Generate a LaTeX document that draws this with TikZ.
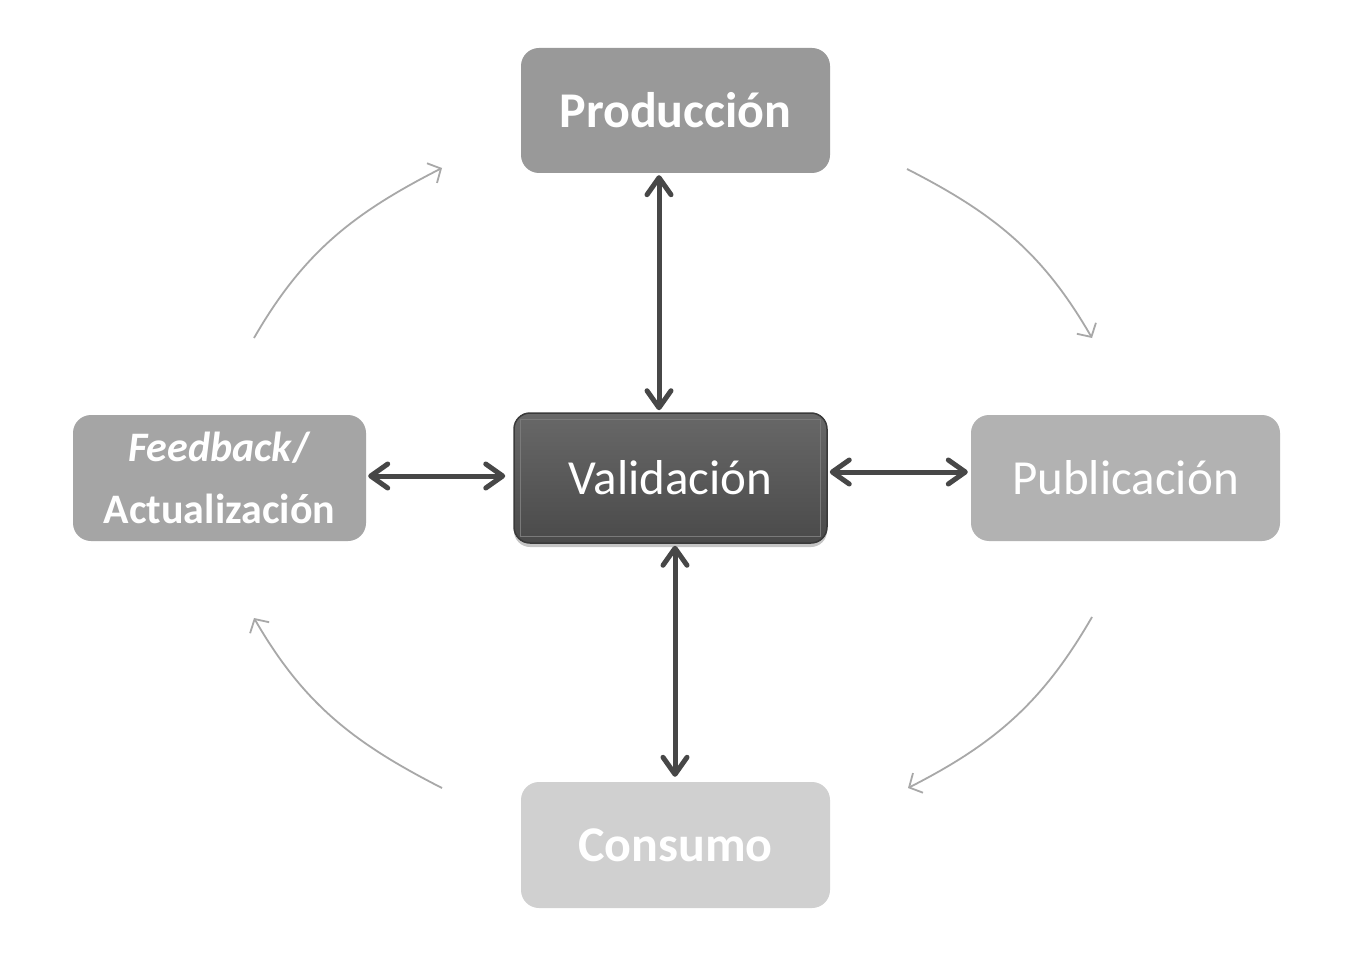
\documentclass[tikz,border=0pt]{standalone}
\usepackage{fontspec}
\setmainfont{Carlito}
\usetikzlibrary{arrows.meta,shadows,calc}
\definecolor{cProd}{HTML}{999999}
\definecolor{cFeed}{HTML}{A5A5A5}
\definecolor{cPub}{HTML}{B2B2B2}
\definecolor{cCons}{HTML}{D0D0D0}
\definecolor{cArrow}{HTML}{474747}
\definecolor{cCurve}{HTML}{A8A8A8}
\definecolor{cValTop}{HTML}{686868}
\definecolor{cValBot}{HTML}{4A4A4A}
\definecolor{cValEdge}{HTML}{3A3A3A}
\definecolor{cValIn}{HTML}{7A7A7A}
\tikzset{
  boxnode/.style={rounded corners=18pt, text=white, align=center, inner sep=0pt},
  thickarrow/.style={draw=cArrow, line width=5pt, line cap=round,
    {Straight Barb[round, length=17pt, width=24pt]}-{Straight Barb[round, length=17pt, width=24pt]}},
  cyclearrow/.style={draw=cCurve, line width=1.8pt,
    -{Straight Barb[length=10pt, width=22pt, line width=1.8pt]}}
}
\begin{document}
\begin{tikzpicture}[x=1pt,y=1pt]
\useasboundingbox[fill=white] (0,0) rectangle (1359,-957);

\node[boxnode, fill=cProd, minimum width=309pt, minimum height=125pt,
  font=\fontsize{50}{58}\selectfont\bfseries] (prod) at (675.5,-110.5) {Producción};
\node[boxnode, fill=cFeed, minimum width=293pt, minimum height=126pt,
  font=\fontsize{42}{62}\selectfont\bfseries] (feed) at (219.5,-478) {\textit{Feedback}/\\Actualización};
\node[boxnode, fill=cPub, minimum width=309pt, minimum height=126pt,
  font=\fontsize{49}{58}\selectfont] (pub) at (1125.5,-478) {Publicación};
\node[boxnode, fill=cCons, minimum width=309pt, minimum height=126pt,
  font=\fontsize{50}{58}\selectfont\bfseries] (cons) at (675.5,-845) {Consumo};

\node[boxnode, draw=cValEdge, line width=1.5pt, top color=cValTop, bottom color=cValBot,
  minimum width=313pt, minimum height=130pt, rounded corners=16pt,
  drop shadow={shadow xshift=0pt, shadow yshift=-4pt, opacity=0.45}] (val) at (670.5,-478) {};
\draw[cValIn, line width=1pt] ($(val.south west)+(7,7)$) rectangle ($(val.north east)+(-7,-7)$);
\node[text=white, font=\fontsize{49}{58}\selectfont] (valtext) at (val.center) {Validación};

% thick double arrows
\draw[thickarrow] ($(prod.south)+(-16.5,-2)$) -- ($(val.north)+(-11.5,2)$);
\draw[thickarrow] ($(val.south)+(4.5,-2)$) -- ($(cons.north)+(-0.5,5)$);
\draw[thickarrow] ($(feed.east)+(2,2)$) -- ($(val.west)+(-8,2)$);
\draw[thickarrow] ($(val.east)+(2,6)$) -- ($(pub.west)+(-3,6)$);

% cycle arrows
\coordinate (c1s) at (254,-338); \coordinate (c1e) at (442,-168);
\coordinate (c2s) at (907,-169); \coordinate (c2e) at (1092,-338);
\coordinate (c3s) at (1092,-617); \coordinate (c3e) at (908,-788);
\coordinate (c4s) at (442,-788); \coordinate (c4e) at (254,-618);
\draw[cyclearrow] (c1s) to[out=60, in=-153] (c1e);
\draw[cyclearrow] (c2s) to[out=-27, in=120] (c2e);
\draw[cyclearrow] (c3s) to[out=-120, in=27] (c3e);
\draw[cyclearrow] (c4s) to[out=153, in=-60] (c4e);
\end{tikzpicture}
\end{document}
